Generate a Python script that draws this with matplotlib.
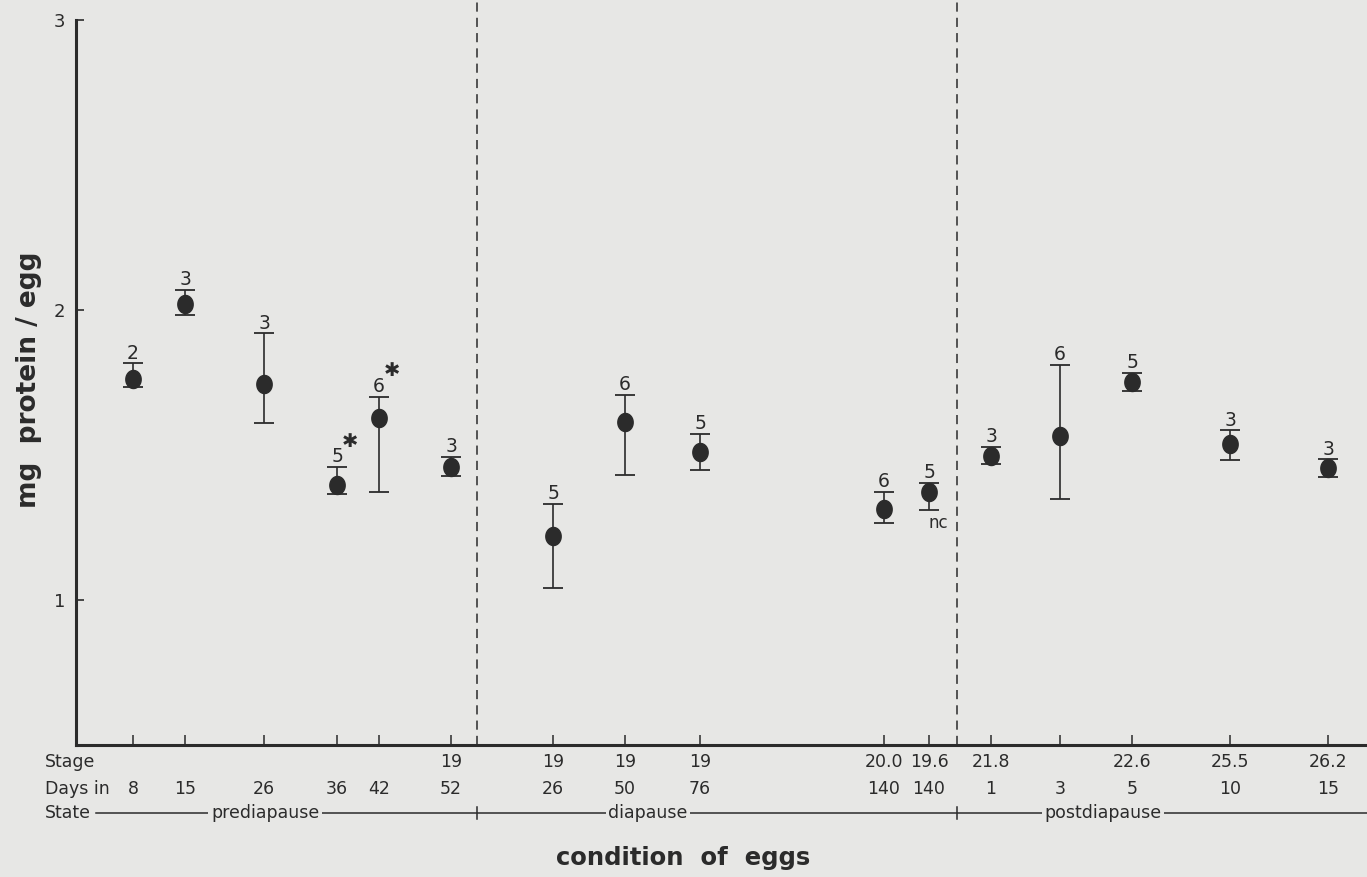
import matplotlib.pyplot as plt
import numpy as np
from matplotlib.path import Path
from matplotlib.transforms import blended_transform_factory

# DATA
x_pos = [5.7, 10.9, 18.8, 26.1, 30.3, 37.5,
         47.7, 54.9, 62.4, 80.8, 85.3,
         91.5, 98.4, 105.6, 115.4, 125.2]
protein = [1.763, 2.019, 1.746, 1.397, 1.629, 1.459,
           1.221, 1.615, 1.511, 1.313, 1.373,
           1.497, 1.566, 1.751, 1.537, 1.456]
err_top = [1.816, 2.070, 1.919, 1.458, 1.700, 1.494,
           1.332, 1.707, 1.574, 1.374, 1.405,
           1.528, 1.812, 1.784, 1.585, 1.485]
err_bot = [1.733, 1.982, 1.609, 1.367, 1.374, 1.428,
           1.040, 1.430, 1.449, 1.264, 1.312,
           1.468, 1.350, 1.721, 1.483, 1.425]
n_eggs = ["2", "3", "3", "5", "6", "3",
          "5", "6", "5", "6", "5",
          "3", "6", "5", "3", "3"]
starred = [3, 4]      # points marked with an asterisk
nc_point = 10         # point labelled "nc"
stage = ["", "", "", "", "", "19",
         "19", "19", "19", "20.0", "19.6",
         "21.8", "", "22.6", "25.5", "26.2"]
days_in = ["8", "15", "26", "36", "42", "52",
           "26", "50", "76", "140", "140",
           "1", "3", "5", "10", "15"]
states = ["prediapause", "diapause", "postdiapause"]
state_centers = [18.9, 57.2, 102.7]
state_bounds = [40.1, 88.1]

BG = '#e7e7e5'
INK = '#2b2b2b'

plt.rcParams['font.family'] = ['DejaVu Sans']

fig = plt.figure(figsize=(13.67, 8.77), dpi=100, facecolor=BG)
ax = fig.add_axes([0.0556, 0.1505, 0.9444, 0.8267])
ax.set_facecolor(BG)

# slightly tall egg-shaped marker
t = np.linspace(0, 2 * np.pi, 60)
egg = Path(np.column_stack([0.85 * np.cos(t), np.sin(t)]))

lo = np.array(protein) - np.array(err_bot)
hi = np.array(err_top) - np.array(protein)
ax.errorbar(x_pos, protein, yerr=[lo, hi], fmt='none', ecolor=INK,
            elinewidth=1.2, capsize=7, capthick=1.3, zorder=2)
ax.plot(x_pos, protein, linestyle='none', marker=egg, markersize=13,
        color=INK, zorder=3)

for i, (x, top, n) in enumerate(zip(x_pos, err_top, n_eggs)):
    ax.annotate(n, (x, top), xytext=(0, 0.5), textcoords='offset points',
                ha='center', va='bottom', fontsize=13.5, color=INK)
    if i in starred:
        ax.annotate('\u2731', (x, top), xytext=(9, 12), textcoords='offset points',
                    ha='center', va='bottom', fontsize=14, color=INK)
    if i == nc_point:
        ax.annotate('nc', (x, err_bot[i]), xytext=(7, -3), textcoords='offset points',
                    ha='center', va='top', fontsize=12, color=INK)

for b in state_bounds:
    ax.axvline(b, ymin=0, ymax=1.028, color=INK, lw=1.1, ls=(0, (6, 4)),
               clip_on=False, zorder=1)

ax.set_xlim(0, 129.1)
ax.set_ylim(0.5, 3.0)
ax.set_yticks([1, 2, 3])
ax.set_yticklabels(['1', '2', '3'], fontsize=13, color=INK)
ax.tick_params(axis='y', direction='in', length=6, width=1.2, pad=8, colors=INK)
ax.set_xticks(x_pos)
ax.set_xticklabels([])
ax.tick_params(axis='x', direction='in', length=7, width=1.1, colors=INK)

for side in ['top', 'right']:
    ax.spines[side].set_visible(False)
for side in ['left', 'bottom']:
    ax.spines[side].set_linewidth(2.2)
    ax.spines[side].set_color(INK)

# rows of labels under the axis
tr = blended_transform_factory(ax.transData, ax.transAxes)
row_stage, row_days, row_state = -0.024, -0.060, -0.094
ax.text(-3.1, row_stage, 'Stage', transform=tr, ha='left', va='center', fontsize=12.5, color=INK)
ax.text(-3.1, row_days, 'Days in', transform=tr, ha='left', va='center', fontsize=12.5, color=INK)
ax.text(-3.1, row_state, 'State', transform=tr, ha='left', va='center', fontsize=12.5, color=INK)
for x, s, d in zip(x_pos, stage, days_in):
    ax.text(x, row_stage, s, transform=tr, ha='center', va='center', fontsize=12.5, color=INK)
    ax.text(x, row_days, d, transform=tr, ha='center', va='center', fontsize=12.5, color=INK)

ax.plot([2.0, 129.1], [row_state, row_state], transform=tr, color=INK, lw=1.1,
        clip_on=False)
for b in state_bounds:
    ax.plot([b, b], [row_state - 0.008, row_state + 0.008], transform=tr,
            color=INK, lw=1.1, clip_on=False)
for c, s in zip(state_centers, states):
    ax.text(c, row_state, s, transform=tr, ha='center', va='center', fontsize=12.5,
            color=INK, bbox=dict(boxstyle='square,pad=0.15', fc=BG, ec='none'))

fig.text(0.5, 0.022, 'condition  of  eggs', ha='center', va='center',
         fontsize=17.5, fontweight='bold', color=INK)
fig.text(0.021, 0.567, 'mg  protein / egg', ha='center', va='center', rotation=90,
         fontsize=19, fontweight='bold', color=INK)

fig.savefig('out.png', dpi=100, facecolor=BG)
